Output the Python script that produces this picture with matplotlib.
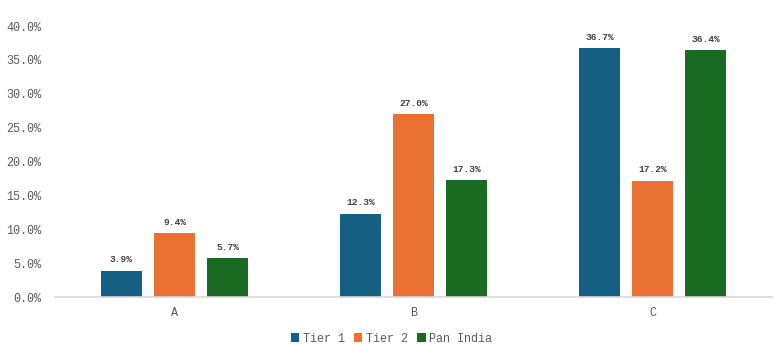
import numpy as np
import matplotlib
matplotlib.use("Agg")
from matplotlib import pyplot as plt

categories = ["A", "B", "C"]
series_names = ["Tier 1", "Tier 2", "Pan India"]
tier1 = [3.9, 12.3, 36.7]
tier2 = [9.4, 27.0, 17.2]
pan_india = [5.7, 17.3, 36.4]
y_ticks = [0, 5, 10, 15, 20, 25, 30, 35, 40]

colors = ["#156082", "#E97132", "#196B24"]
plt.rcParams['font.family'] = ['Liberation Mono', 'DejaVu Sans Mono']

fig = plt.figure(figsize=(7.83, 3.57), dpi=100)
ax = fig.add_axes([0.0702, 0.168, 0.916, 0.759])

x = np.arange(len(categories))
width = 0.172
step = 0.222
for i, (name, vals) in enumerate(zip(series_names, [tier1, tier2, pan_india])):
    bars = ax.bar(x + (i - 1) * step, vals, width, color=colors[i], label=name)
    for b, v in zip(bars, vals):
        ax.annotate(f"{v:.1f}%", (b.get_x() + b.get_width() / 2, v),
                    xytext=(0, 4.5), textcoords="offset points",
                    ha="center", va="bottom", fontsize=6.8,
                    fontweight="bold", color="#404040")

ax.set_xlim(-0.5, 2.5)
ax.set_ylim(0, 40)
ax.set_yticks(y_ticks)
ax.set_yticklabels([f"{t:.1f}%" for t in y_ticks])
ax.set_xticks(x)
ax.set_xticklabels(categories)
ax.tick_params(axis="both", length=0, labelsize=8.5, labelcolor="#595959")
ax.tick_params(axis="x", pad=7)
ax.tick_params(axis="y", pad=10)
for s in ["top", "right", "left"]:
    ax.spines[s].set_visible(False)
ax.spines["bottom"].set_color("#D9D9D9")
ax.spines["bottom"].set_linewidth(1.2)

leg = fig.legend(loc="lower center", bbox_to_anchor=(0.5, 0.005), ncol=3,
                 frameon=False, fontsize=8.5, handlelength=0.7,
                 handleheight=0.7, handletextpad=0.3, columnspacing=0.8)
for t in leg.get_texts():
    t.set_color("#595959")

fig.savefig("out.png", dpi=100)
